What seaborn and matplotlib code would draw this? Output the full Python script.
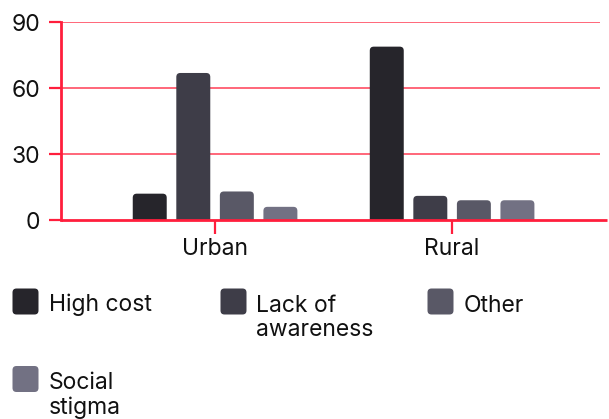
import matplotlib
matplotlib.use("Agg")
import matplotlib.pyplot as plt
from matplotlib.patches import FancyBboxPatch
import pandas as pd
import seaborn as sns

# Data
areas = ["Urban", "Rural"]
reasons = ["High cost", "Lack of awareness", "Other", "Social stigma"]
legend_labels = ["High cost", "Lack of\nawareness", "Other", "Social\nstigma"]
urban_values = [12, 67, 13, 6]
rural_values = [79, 11, 9, 9]
y_ticks = [0, 30, 60, 90]

colors = ["#26252b", "#3e3d48", "#595866", "#727183"]
GRID = "#ff5a6e"
AXIS = "#ff1e3c"
TEXT = "#111111"
FONT = ["Inter", "DejaVu Sans"]
FS = 16.5

rows = []
for area, vals in zip(areas, [urban_values, rural_values]):
    for reason, v in zip(reasons, vals):
        rows.append({"area": area, "reason": reason, "value": v})
df = pd.DataFrame(rows)

sns.set_theme(style="white")
plt.rcParams["font.family"] = FONT

W, H = 609, 419
fig = plt.figure(figsize=(W / 100, H / 100), dpi=100)
ax_left, ax_right, ax_top, ax_bottom = 61, 600, 22.5, 220
ax = fig.add_axes([ax_left / W, 1 - ax_bottom / H,
                   (ax_right - ax_left) / W, (ax_bottom - ax_top) / H])

sns.barplot(data=df, x="area", y="value", hue="reason", order=areas,
            hue_order=reasons, palette=colors, width=0.735, gap=0.22,
            legend=False, ax=ax, saturation=1)

ax.set_xlim(-0.65, 1.624)
ax.set_ylim(0, 90)
ax.set_yticks(y_ticks)
ax.set_xlabel("")
ax.set_ylabel("")

# Swap plain rectangles for rounded-top bars
x0, x1 = ax.get_xlim()
y0, y1 = ax.get_ylim()
px_x = (x1 - x0) / (ax_right - ax_left)
px_y = (y1 - y0) / (ax_bottom - ax_top)
radius = 4 * px_x
for p in list(ax.patches):
    x, w, h = p.get_x(), p.get_width(), p.get_height()
    fc = p.get_facecolor()
    p.remove()
    ext = 6 * px_y
    fb = FancyBboxPatch((x, -ext), w, h + ext,
                        boxstyle=f"round,pad=0,rounding_size={radius}",
                        mutation_aspect=px_y / px_x, facecolor=fc,
                        edgecolor="none", zorder=2)
    ax.add_patch(fb)

# Grid and axes styling
for t in y_ticks[1:]:
    ax.axhline(t, color=GRID, lw=1.3, zorder=1)
for s in ["top", "right", "bottom"]:
    ax.spines[s].set_visible(False)
ax.spines["left"].set_color(AXIS)
ax.spines["left"].set_linewidth(2)
ax.spines["left"].set_zorder(3)
ax.plot([0, (607 - ax_left) / (ax_right - ax_left)], [0, 0],
        transform=ax.transAxes, color=AXIS, lw=2, clip_on=False, zorder=3,
        solid_capstyle="butt")

ax.tick_params(axis="y", length=9, width=1.6, color=AXIS, pad=6,
               labelsize=FS, labelcolor=TEXT, left=True)
ax.tick_params(axis="x", length=10, width=1.6, color=AXIS, pad=3,
               labelsize=FS, labelcolor=TEXT, bottom=True, direction="out")

# Legend built from the series names and colours
SQ = 26
legend_pos = [(12.5, 288.5, 49, 311.5), (220.5, 288.5, 256, 311.5),
              (427.5, 288.5, 463.5, 311.5), (12.5, 366, 49, 389)]
for (sx, sy, tx, ty), label, c in zip(legend_pos, legend_labels, colors):
    sq = FancyBboxPatch((sx / W, 1 - (sy + SQ) / H), SQ / W, SQ / H,
                        boxstyle=f"round,pad=0,rounding_size={4 / W}",
                        mutation_aspect=W / H, transform=fig.transFigure,
                        facecolor=c, edgecolor="none")
    fig.add_artist(sq)
    for i, line in enumerate(label.split("\n")):
        fig.text(tx / W, 1 - (ty + 25 * i) / H, line, fontsize=FS,
                 color=TEXT, va="baseline", ha="left")

fig.savefig("out.png", dpi=100)
